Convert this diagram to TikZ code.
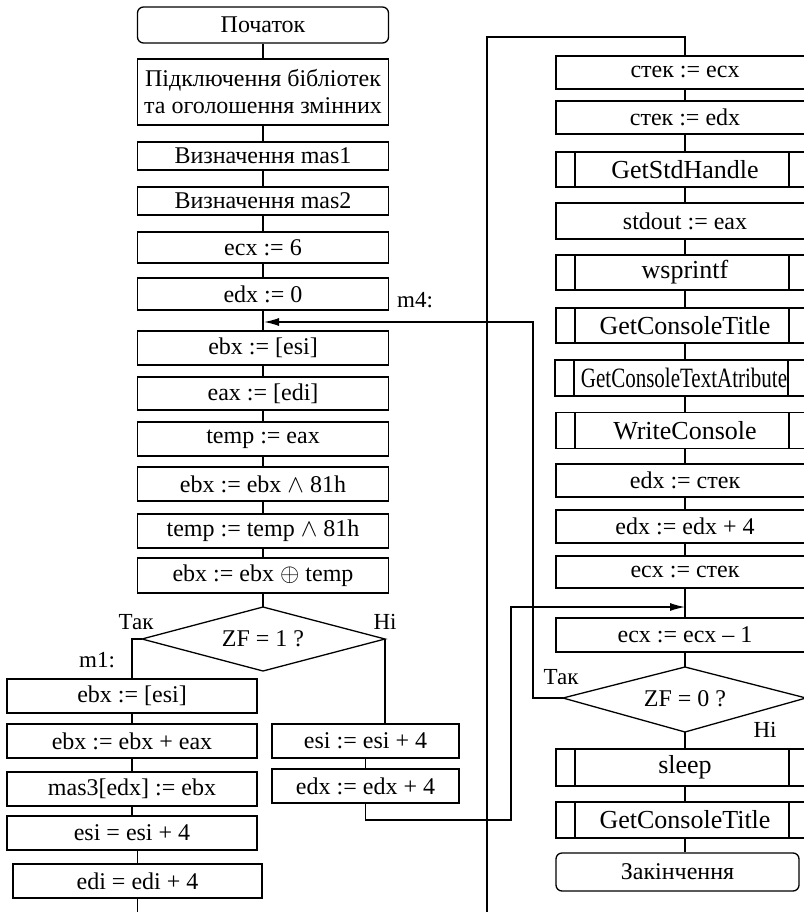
\documentclass[tikz,border=0pt]{standalone}
\usepackage{fontspec}
\usepackage{graphicx}
\setmainfont{Liberation Serif}
\usetikzlibrary{arrows.meta}
\begin{document}
\begin{tikzpicture}[x=1pt,y=-1pt,
  ln/.style={line width=1.3pt},
  box/.style={draw, line width=1.3pt, inner sep=0pt, align=center, font=\fontsize{24}{27}\selectfont},
  term/.style={box, rounded corners=6pt},
  sub/.style={box, font=\fontsize{26}{28}\selectfont,
    path picture={
      \draw[line width=1.3pt] ([xshift=19pt]path picture bounding box.north west) -- ([xshift=19pt]path picture bounding box.south west);
      \draw[line width=1.3pt] ([xshift=-25pt]path picture bounding box.north east) -- ([xshift=-25pt]path picture bounding box.south east);}},
  lbl/.style={inner sep=0pt, font=\fontsize{23}{25}\selectfont},
  dtext/.style={inner sep=0pt, font=\fontsize{24}{27}\selectfont},
  arr/.style={ln, -{Latex[length=15pt,width=8pt]}}
]
\useasboundingbox (0,0) rectangle (803,912);

% ---------- left main column ----------
\tikzset{lc/.style={box, minimum width=251pt}}
\node[term, minimum width=251pt, minimum height=36pt] (start) at (263,25) {Початок};
\node[lc, minimum height=66pt] (inc) at (263,92) {Підключення бібліотек\\та оголошення змінних};
\node[lc, minimum height=28pt] (mas1) at (263,156) {Визначення mas1};
\node[lc, minimum height=28pt] (mas2) at (263,201) {Визначення mas2};
\node[lc, minimum height=31pt] (ecx6) at (263,247.5) {ecx := 6};
\node[lc, minimum height=32pt] (edx0) at (263,294) {edx := 0};
\node[lc, minimum height=34pt] (l1) at (263,348) {ebx := [esi]};
\node[lc, minimum height=33pt] (l2) at (263,393.5) {eax := [edi]};
\node[lc, minimum height=34pt] (l3) at (263,439) {temp := eax};
\node[lc, minimum height=34pt] (l4) at (263,484) {ebx := ebx $\wedge$ 81h};
\node[lc, minimum height=34pt] (l5) at (263,531) {temp := temp $\wedge$ 81h};
\node[lc, minimum height=35pt] (l6) at (263,575.5) {ebx := ebx $\oplus$ temp};

% diamond 1
\coordinate (d1t) at (263,607);
\coordinate (d1l) at (142,639);
\coordinate (d1r) at (385,639);
\coordinate (d1b) at (263,671);
\draw[ln] (d1t) -- (d1r) -- (d1b) -- (d1l) -- cycle;
\node[dtext] (d1) at (263,639) {ZF = 1 ?};

% left branch
\tikzset{bc/.style={box, minimum width=250pt, minimum height=34pt}}
\node[bc] (b1) at (132,696) {ebx := [esi]};
\node[bc] (b2) at (132,741) {ebx := ebx + eax};
\node[bc] (b3) at (132,789) {mas3[edx] := ebx};
\node[bc] (b4) at (132,833) {esi = esi + 4};
\node[bc, minimum width=249pt] (b5) at (137.5,881) {edi = edi + 4};

% right branch
\tikzset{rc/.style={box, minimum width=187pt, minimum height=34pt}}
\node[rc] (r1) at (365.5,741) {esi := esi + 4};
\node[rc] (r2) at (365.5,786) {edx := edx + 4};

% ---------- right column ----------
\tikzset{cc/.style={box, minimum width=258pt},
         cs/.style={sub, minimum width=258pt}}
\node[cc, minimum height=33pt] (c1) at (685,72.5) {стек := ecx};
\node[cc, minimum height=33pt] (c2) at (685,117.5) {стек := edx};
\node[cs, minimum height=35pt] (c3) at (685,169.5) {GetStdHandle};
\node[cc, minimum height=36pt] (c4) at (685,221) {stdout := eax};
\node[cs, minimum height=35pt] (c5) at (685,272.5) {wsprintf};
\node[cs, minimum height=35pt] (c6) at (685,325.5) {GetConsoleTitle};
\node[cs, minimum height=36pt, font=\fontsize{28}{30}\selectfont] (c7) at (684,378) {\scalebox{0.75}[1]{GetConsoleTextAtribute}};
\node[cs, minimum height=36pt] (c8) at (685,430.5) {WriteConsole};
\node[cc, minimum height=33pt] (c9) at (685,480.5) {edx := стек};
\node[cc, minimum height=33pt] (c10) at (685,526.5) {edx := edx + 4};
\node[cc, minimum height=32pt] (c11) at (685,572) {ecx := стек};
\node[cc, minimum height=34pt] (c12) at (685,635) {ecx := ecx -- 1};

% diamond 2
\coordinate (d2t) at (685,667);
\coordinate (d2l) at (563,698);
\coordinate (d2r) at (806,698);
\coordinate (d2b) at (685,732);
\draw[ln] (d2t) -- (d2r) -- (d2b) -- (d2l) -- cycle;
\node[dtext] (d2) at (685,699) {ZF = 0 ?};

\node[cs, minimum height=37pt] (c13) at (685,767.5) {sleep};
\node[cs, minimum height=36pt] (c14) at (685,820) {GetConsoleTitle};
\node[term, minimum width=243pt, minimum height=38pt] (fin) at (677.5,872) {Закінчення};

% ---------- connectors ----------
\draw[ln] (start) -- (inc);
\draw[ln] (inc) -- (mas1);
\draw[ln] (mas1) -- (mas2);
\draw[ln] (mas2) -- (ecx6);
\draw[ln] (ecx6) -- (edx0);
\draw[ln] (edx0) -- (l1);
\draw[ln] (l1) -- (l2);
\draw[ln] (l2) -- (l3);
\draw[ln] (l3) -- (l4);
\draw[ln] (l4) -- (l5);
\draw[ln] (l5) -- (l6);
\draw[ln] (l6) -- (d1t);

% yes branch (left)
\draw[ln] (d1l) -- (d1l -| b1.north) -- (b1.north);
\draw[ln] (b1) -- (b2);
\draw[ln] (b2) -- (b3);
\draw[ln] (b3) -- (b4);
\draw[ln] (b4.south) -- (b4.south -| b5.north) -- (b5.north);
\coordinate (offL) at (137.5,912);
\draw[ln] (b5) -- (offL);

% no branch (right)
\draw[ln] (d1r) -- (d1r |- r1.north);
\draw[ln] (r1) -- (r2);
\coordinate (loopA) at (511,820);
\coordinate (loopB) at (511,607);
\coordinate (j2) at (685,607);
\draw[arr] (r2.south) |- (loopA) -- (loopB) -- (j2);

% right column
\coordinate (offR) at (487,912);
\coordinate (topR) at (487,37);
\draw[ln] (offR) -- (topR) -| (c1.north);
\draw[ln] (c1) -- (c2);
\draw[ln] (c2) -- (c3);
\draw[ln] (c3) -- (c4);
\draw[ln] (c4) -- (c5);
\draw[ln] (c5) -- (c6);
\draw[ln] (c6) -- (c6 |- c7.north);
\draw[ln] (c6 |- c7.south) -- (c8);
\draw[ln] (c8) -- (c9);
\draw[ln] (c9) -- (c10);
\draw[ln] (c10) -- (c11);
\draw[ln] (c11) -- (c12);
\draw[ln] (c12) -- (d2t);
\draw[ln] (d2b) -- (c13);
\draw[ln] (c13) -- (c14);
\draw[ln] (c14.south) -- (c14.south |- fin.north);

% m4 return
\coordinate (m4a) at (533,322);
\coordinate (m4pt) at (264,322);
\draw[arr] (d2l) -| (m4a) -- (m4pt);

% labels
\node[lbl] (tak1) at (136,622) {Так};
\node[lbl] (ni1) at (385,622) {Ні};
\node[lbl] (m1) at (97,660) {m1:};
\node[lbl] (m4) at (415,300) {m4:};
\node[lbl] (tak2) at (561,677) {Так};
\node[lbl] (ni2) at (765,730) {Ні};
\end{tikzpicture}
\end{document}
